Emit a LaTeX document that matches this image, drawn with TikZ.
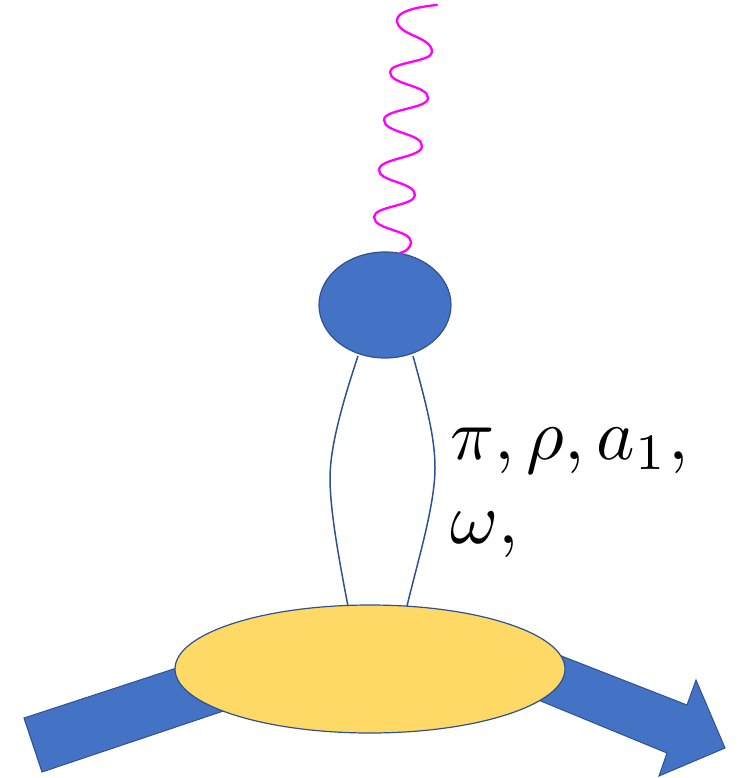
\documentclass[tikz,border=0pt]{standalone}
\usetikzlibrary{calc,shapes.geometric}
\definecolor{blobblue}{HTML}{4472C4}
\definecolor{edgeblue}{HTML}{2F528F}
\definecolor{blobyellow}{HTML}{FFD966}
\definecolor{photon}{HTML}{FF00FF}
\begin{document}
\begin{tikzpicture}[x=1pt,y=-1pt,
  fatarrow/.style={fill=blobblue,draw=edgeblue,line width=1pt,line join=miter},
  blob/.style={ellipse,draw=edgeblue,line width=1.2pt,inner sep=0pt,outer sep=0pt},
  meson/.style={draw=edgeblue,line width=1.5pt},
  photonline/.style={draw=photon,line width=2.3pt,line cap=round},
  labeltext/.style={anchor=base west,inner sep=0pt}]
\useasboundingbox (0,0) rectangle (741,778);
% incoming fat arrow
\path[fatarrow] (24,718) -- (262,640) -- (280,692) -- (42,772) -- cycle;
% outgoing fat arrow
\path[fatarrow] (500,632) -- (687,705) -- (696,680) -- (725,748) -- (659,776) -- (667,753) -- (480,676) -- cycle;
% large yellow blob
\node[blob,fill=blobyellow,minimum width=390pt,minimum height=128pt] (Y) at (370,669) {};
% small blue blob
\node[blob,fill=blobblue,minimum width=132pt,minimum height=106pt] (B) at (385,305) {};
% meson lines
\coordinate (L1) at (358,356);
\coordinate (L2) at (348,606);
\coordinate (R1) at (413,356);
\coordinate (R2) at (407,606);
\draw[meson] (L1) .. controls (340,410) and (330,450) .. (330,478) .. controls (330,510) and (339,560) .. (L2);
\draw[meson] (R1) .. controls (428,410) and (435,440) .. (435,468) .. controls (435,505) and (418,560) .. (R2);
% photon
\coordinate (P0) at (437,5);
\coordinate (P1) at (400,253);
\draw[photonline] (P0) .. controls (415,7) and (397,12) .. (397,20)
  .. controls (397,36) and (432,36) .. (432,52)
  .. controls (432,62) and (390,62) .. (390,72)
  .. controls (390,85) and (428,85) .. (428,98)
  .. controls (428,109) and (384,109) .. (384,120)
  .. controls (384,133) and (422,133) .. (422,146)
  .. controls (422,158) and (379,158) .. (379,170)
  .. controls (379,182) and (415,182) .. (415,195)
  .. controls (415,206) and (374,206) .. (374,217)
  .. controls (374,230) and (411,230) .. (411,242)
  .. controls (411,248) and (405,252) .. (P1);
% label
\node[labeltext] (lab1) at (450,459) {\scalebox{7.3}{$\pi, \rho, a_1,$}};
\node[labeltext] (lab2) at (450,543) {\scalebox{7.3}{$\omega,$}};
\end{tikzpicture}
\end{document}
